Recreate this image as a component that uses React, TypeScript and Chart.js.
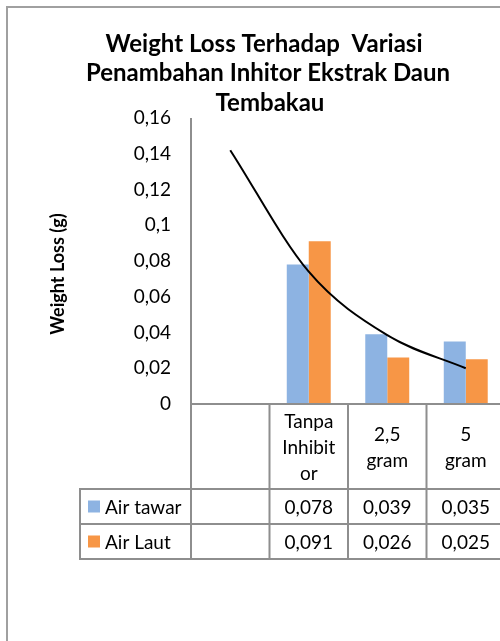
import React, { useEffect, useRef } from 'react';
import { Chart, registerables } from 'chart.js';

Chart.register(...registerables);

// ---------- data ----------
const categories: string[] = ['', 'Tanpa Inhibitor', '2,5 gram', '5 gram'];
const categoryLines: string[][] = [[], ['Tanpa', 'Inhibit', 'or'], ['2,5', 'gram'], ['5', 'gram']];
const seriesNames: string[] = ['Air tawar', 'Air Laut'];
const airTawar: (number | null)[] = [null, 0.078, 0.039, 0.035];
const airLaut: (number | null)[] = [null, 0.091, 0.026, 0.025];
const trendValues: number[] = [0.142, 0.074, 0.0385, 0.02];
const titleLines: string[] = ['Weight Loss Terhadap  Variasi', 'Penambahan Inhitor Ekstrak Daun', 'Tembakau'];
const yAxisTitle = 'Weight Loss (g)';
const yMin = 0;
const yMax = 0.16;
const yStep = 0.02;

const seriesColors = ['#8DB3E2', '#F79646'];
const FONT = 'Lato, "Open Sans", sans-serif';
const LINE = '#8E8E8E';

const fmtTick = (v: number) => String(Number(v.toFixed(2))).replace('.', ',');
const fmtVal = (v: number | null) => (v == null ? '' : v.toFixed(3).replace('.', ','));

const overlayPlugin = {
  id: 'overlay',
  beforeDraw(chart: any) {
    const ctx = chart.ctx;
    ctx.save();
    ctx.fillStyle = '#ffffff';
    ctx.fillRect(0, 0, chart.width, chart.height);
    ctx.strokeStyle = '#A0A0A0';
    ctx.lineWidth = 2;
    ctx.strokeRect(7, 7, chart.width + 40, chart.height + 40);
    ctx.restore();
  },
  afterDraw(chart: any) {
    const ctx = chart.ctx;
    const area = chart.chartArea;
    const xs = chart.scales.x;
    const n = categories.length;
    const colW = (xs.right - xs.left) / n;
    const axisY = area.bottom;
    const headBottom = axisY + 85;
    const rowH = 35;
    const tableBottom = headBottom + rowH * seriesNames.length;
    const legendLeft = 80;

    ctx.save();
    // title
    ctx.fillStyle = '#000';
    ctx.font = `bold 24px ${FONT}`;
    ctx.textAlign = 'center';
    ctx.textBaseline = 'alphabetic';
    const titleX = [264, 268, 270];
    const titleY = [51.5, 81, 110.5];
    titleLines.forEach((t, i) => ctx.fillText(t, titleX[i], titleY[i]));

    // y axis title
    ctx.save();
    ctx.translate(58, 274);
    ctx.rotate(-Math.PI / 2);
    ctx.font = `bold 18px ${FONT}`;
    ctx.textBaseline = 'middle';
    ctx.fillText(yAxisTitle, 0, 0);
    ctx.restore();

    // table lines
    ctx.strokeStyle = LINE;
    ctx.lineWidth = 2;
    ctx.beginPath();
    ctx.moveTo(area.left, area.top);
    ctx.lineTo(area.left, tableBottom + 1);
    ctx.moveTo(area.left - 1, axisY);
    ctx.lineTo(chart.width, axisY);
    for (let r = 0; r <= seriesNames.length; r++) {
      const y = headBottom + r * rowH;
      ctx.moveTo(legendLeft - 1, y);
      ctx.lineTo(chart.width, y);
    }
    ctx.moveTo(legendLeft, headBottom);
    ctx.lineTo(legendLeft, tableBottom + 1);
    for (let i = 1; i <= n; i++) {
      const x = xs.left + i * colW;
      ctx.moveTo(x, axisY);
      ctx.lineTo(x, tableBottom + 1);
    }
    ctx.stroke();

    // header text
    ctx.fillStyle = '#000';
    ctx.font = `19px ${FONT}`;
    ctx.textAlign = 'center';
    ctx.textBaseline = 'middle';
    const headMid = (axisY + headBottom) / 2;
    categoryLines.forEach((lines, i) => {
      const cx = xs.getPixelForValue(i);
      const lh = 26;
      const y0 = headMid - ((lines.length - 1) * lh) / 2;
      lines.forEach((l, j) => ctx.fillText(l, cx, y0 + j * lh + 1));
    });

    // rows
    const series = [airTawar, airLaut];
    series.forEach((vals, r) => {
      const cy = headBottom + r * rowH + rowH / 2;
      ctx.fillStyle = seriesColors[r];
      ctx.fillRect(88, cy - 6, 12, 12);
      ctx.fillStyle = '#000';
      ctx.textAlign = 'left';
      ctx.fillText(seriesNames[r], 105, cy + 1);
      ctx.textAlign = 'center';
      vals.forEach((v, i) => {
        ctx.fillText(fmtVal(v), xs.getPixelForValue(i), cy + 1);
      });
    });
    ctx.restore();
  },
};

export default function App() {
  const ref = useRef<HTMLCanvasElement>(null);

  useEffect(() => {
    const canvas = ref.current;
    if (!canvas) return;
    const chart = new Chart(canvas, {
      type: 'bar',
      data: {
        labels: categories,
        datasets: [
          {
            type: 'line',
            label: 'trend',
            data: trendValues,
            borderColor: '#000000',
            borderWidth: 2,
            pointRadius: 0,
            fill: false,
            cubicInterpolationMode: 'monotone',
            order: 0,
          } as any,
          {
            label: seriesNames[0],
            data: airTawar,
            backgroundColor: seriesColors[0],
            barPercentage: 1,
            categoryPercentage: 0.56,
            order: 1,
          },
          {
            label: seriesNames[1],
            data: airLaut,
            backgroundColor: seriesColors[1],
            barPercentage: 1,
            categoryPercentage: 0.56,
            order: 1,
          },
        ],
      },
      options: {
        animation: false,
        responsive: false,
        devicePixelRatio: 1,
        layout: { padding: { left: 0, right: 15, top: 118, bottom: 237 } },
        plugins: {
          legend: { display: false },
          title: { display: false },
          tooltip: { enabled: false },
        },
        scales: {
          x: { display: false },
          y: {
            min: yMin,
            max: yMax,
            grid: { display: false, drawTicks: false },
            border: { display: false },
            ticks: {
              stepSize: yStep,
              padding: 20,
              color: '#000',
              font: { family: FONT, size: 19 },
              callback: (v: any) => fmtTick(Number(v)),
            },
            afterFit: (s: any) => {
              s.width = 191;
            },
          },
        },
      },
      plugins: [overlayPlugin],
    });
    return () => chart.destroy();
  }, []);

  return (
    <div style={{ position: 'absolute', left: 0, top: 0, width: 500, height: 641, overflow: 'hidden', background: '#fff' }}>
      <canvas ref={ref} width={520} height={641} style={{ display: 'block', width: 520, height: 641 }} />
    </div>
  );
}
